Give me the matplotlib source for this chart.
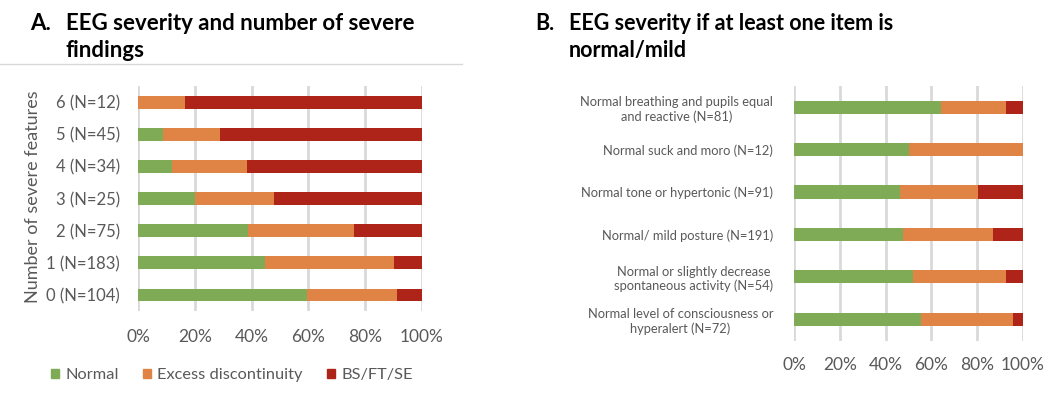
import numpy as np
import matplotlib
matplotlib.use('Agg')
import matplotlib.pyplot as plt
from matplotlib.patches import Patch

plt.rcParams['font.family'] = ['Lato', 'DejaVu Sans']

# panel A: number of severe features (bottom to top)
labels_a = ['0 (N=104)', '1 (N=183)', '2 (N=75)', '3 (N=25)', '4 (N=34)', '5 (N=45)', '6 (N=12)']
normal_a = [59.6, 44.8, 38.7, 20.0, 11.8, 8.9, 0.0]
excess_a = [31.7, 45.4, 37.3, 28.0, 26.5, 20.0, 16.7]
severe_a = [8.7, 9.8, 24.0, 52.0, 61.7, 71.1, 83.3]

# panel B: at least one item normal/mild (top to bottom)
labels_b = ['Normal breathing and pupils equal\nand reactive (N=81)',
            'Normal suck and moro (N=12)',
            'Normal tone or hypertonic (N=91)',
            'Normal/ mild posture (N=191)',
            'Normal or slightly decrease\nspontaneous activity (N=54)',
            'Normal level of consciousness or\nhyperalert (N=72)']
normal_b = [64.2, 50.0, 46.2, 47.6, 51.9, 55.6]
excess_b = [28.4, 50.0, 34.0, 39.3, 40.7, 40.2]
severe_b = [7.4, 0.0, 19.8, 13.1, 7.4, 4.2]

series = ['Normal', 'Excess discontinuity', 'BS/FT/SE']
colors = ['#7FAB56', '#DF8445', '#AF2419']
grey = '#595959'

W, H = 1058, 396
fig = plt.figure(figsize=(W / 100, H / 100), dpi=100)


def px_axes(left, top, right, bottom):
    return fig.add_axes([left / W, 1 - bottom / H, (right - left) / W, (bottom - top) / H])


def stacked(ax, labels, vals, height, tick_size, ypad, xpad):
    y = np.arange(len(labels))
    left = np.zeros(len(labels))
    for v, c in zip(vals, colors):
        ax.barh(y, v, left=left, height=height, color=c, zorder=3)
        left += np.array(v)
    ax.set_xlim(0, 100)
    ax.set_ylim(-0.5, len(labels) - 0.5)
    ax.set_xticks(range(0, 101, 20))
    ax.set_xticklabels([f'{t}%' for t in range(0, 101, 20)])
    ax.set_yticks(y)
    ax.set_yticklabels(labels)
    ax.grid(axis='x', color='#D9D9D9', linewidth=2, zorder=0)
    for s in ax.spines.values():
        s.set_visible(False)
    ax.tick_params(axis='x', length=0, pad=xpad, labelsize=12.5, labelcolor=grey)
    ax.tick_params(axis='y', length=0, pad=ypad, labelsize=tick_size, labelcolor=grey)


ax_a = px_axes(138, 86, 422, 311)
stacked(ax_a, labels_a, [normal_a, excess_a, severe_a], 0.4, 12, 13, 13)
ax_a.set_ylabel('Number of severe features', fontsize=13, color=grey)
ax_a.yaxis.set_label_coords(-97 / 284, 0.51)

ax_b = px_axes(794, 86, 1023, 340.5)
stacked(ax_b, labels_b, [normal_b, excess_b, severe_b], 0.31, 9.3, 15, 12)
ax_b.invert_yaxis()
for t in ax_b.get_yticklabels():
    t.set_multialignment('center')

# titles
def ftxt(x, y, s, size=16):
    fig.text(x / W, 1 - y / H, s, va='baseline', fontsize=size, fontweight='bold')

ftxt(30, 30, 'A.')
ftxt(66, 30, 'EEG severity and number of severe')
ftxt(66, 57, 'findings')
ftxt(535, 30, 'B.', 15.5)
ftxt(569, 30, 'EEG severity if at least one item is', 15.5)
ftxt(569, 57, 'normal/mild', 15.5)

fig.add_artist(plt.Line2D([0, 462 / W], [1 - 64 / H] * 2, color='#D9D9D9', linewidth=1))

handles = [Patch(color=c, label=s) for c, s in zip(colors, series)]
fig.legend(handles=handles, loc='center', bbox_to_anchor=(232 / W, 1 - 375 / H),
           ncol=3, frameon=False, fontsize=11.8, labelcolor=grey,
           handlelength=0.5, handleheight=0.5, handletextpad=0.35, columnspacing=1.5)

fig.savefig('out.png', dpi=100)
